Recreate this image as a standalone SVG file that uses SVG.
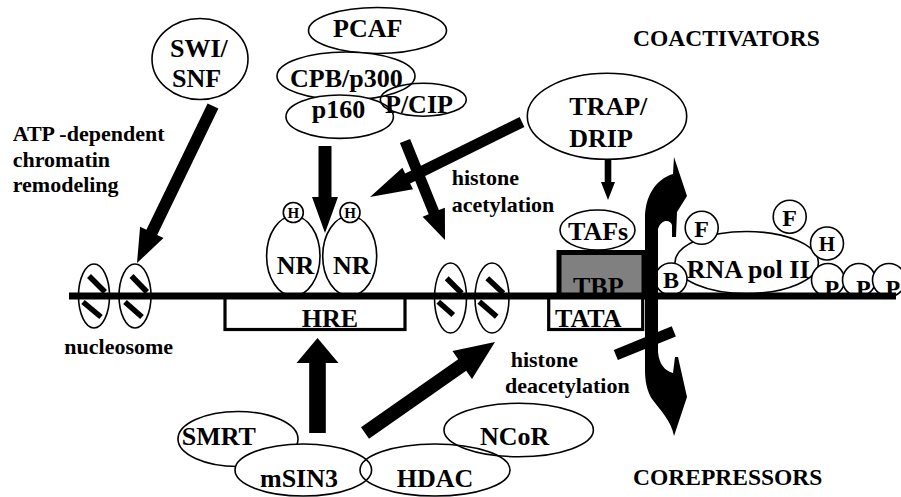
<svg xmlns="http://www.w3.org/2000/svg" width="901" height="497" viewBox="0 0 901 497">
<style>
.n{fill:#fff;stroke:#000;stroke-width:1.6}
.o{fill:none;stroke:#000;stroke-width:1.6}
.t{font-family:'Liberation Serif','DejaVu Serif','Noto Serif','Times New Roman',serif;font-weight:bold;font-size:26px;fill:#000}
.s{font-size:22px}
.k{font-size:23.5px}
.c{font-size:15px}
.m{text-anchor:middle}
.a{fill:#000;stroke:none}
.sl{stroke:#000;stroke-width:5.5}
.bx{fill:#fff;stroke:#000;stroke-width:3.2}
</style>
<rect width="901" height="497" fill="#fff"/>

<g id="swi-snf">
<ellipse class="n" cx="200" cy="59" rx="48" ry="40.5"/>
<text class="t" x="170" y="57">SWI/</text>
<text class="t" x="172" y="87">SNF</text>
</g>

<g id="pcaf">
<ellipse class="n" cx="377.5" cy="30.5" rx="69" ry="23"/>
<text class="t" x="333" y="37">PCAF</text>
</g>
<g id="cpb-p300">
<ellipse class="n" cx="346" cy="76" rx="69" ry="24"/>
<text class="t" x="290" y="87">CPB/p300</text>
</g>
<g id="p160">
<ellipse class="n" cx="339.7" cy="116.7" rx="53.7" ry="21.7"/>
<text class="t" x="311.7" y="118">p160</text>
</g>
<g id="p-cip">
<ellipse class="o" cx="423.3" cy="99.7" rx="43" ry="16.5"/>
<text class="t" x="385" y="112.5">P/CIP</text>
</g>

<g id="trap-drip">
<ellipse class="n" cx="607" cy="116.3" rx="79.7" ry="43"/>
<text class="t" x="569.3" y="115">TRAP/</text>
<text class="t" x="569.3" y="147">DRIP</text>
</g>

<g id="nr-left">
<ellipse class="n" cx="293.3" cy="256" rx="26.7" ry="40"/>
<circle class="n" cx="293.3" cy="212.5" r="10"/>
<text class="t c m" x="293.3" y="218">H</text>
<text class="t" x="276.7" y="274">NR</text>
</g>
<g id="nr-right">
<ellipse class="n" cx="349.7" cy="256" rx="27" ry="40"/>
<circle class="n" cx="350" cy="212.5" r="10"/>
<text class="t c m" x="350" y="218">H</text>
<text class="t" x="333" y="274">NR</text>
</g>

<g id="nucleosomes-left">
<ellipse class="o" cx="94" cy="296" rx="15.5" ry="32"/>
<ellipse class="o" cx="135" cy="296" rx="16" ry="32"/>
<line class="sl" x1="89" y1="276" x2="105" y2="292"/>
<line class="sl" x1="83" y1="302" x2="101" y2="317"/>
<line class="sl" x1="131.5" y1="276" x2="147" y2="292"/>
<line class="sl" x1="125" y1="302" x2="142" y2="317"/>
</g>
<g id="nucleosomes-right">
<ellipse class="o" cx="450.5" cy="298" rx="16" ry="35"/>
<ellipse class="o" cx="492" cy="298" rx="17" ry="35"/>
<line class="sl" x1="446.7" y1="278.3" x2="461.7" y2="293.3"/>
<line class="sl" x1="438.3" y1="301.7" x2="453.3" y2="315"/>
<line class="sl" x1="487.3" y1="278.3" x2="503.3" y2="293.3"/>
<line class="sl" x1="479.3" y1="301.7" x2="496.7" y2="316.7"/>
</g>

<g id="hre">
<rect class="bx" x="225" y="296" width="180" height="33.5"/>
<text class="t" x="301.7" y="327">HRE</text>
</g>
<g id="tata">
<rect class="bx" x="548.7" y="296" width="94" height="33.5"/>
<text class="t" x="555" y="327">TATA</text>
</g>
<g id="tafs">
<ellipse class="n" cx="597.5" cy="230" rx="37.5" ry="20"/>
<text class="t" x="568" y="240">TAFs</text>
</g>
<g id="tbp">
<rect x="559" y="252.5" width="85" height="43" fill="#808080" stroke="#000" stroke-width="5"/>
<text class="t" x="573" y="295">TBP</text>
</g>

<g id="rna-pol-ii">
<ellipse class="n" cx="746.7" cy="262.5" rx="71.7" ry="31"/>
<text class="t" x="686.7" y="278">RNA pol II</text>
<circle class="n" cx="671" cy="279" r="16"/>
<text class="t m" x="671" y="288" style="font-size:24px">B</text>
<circle class="n" cx="701.7" cy="227.8" r="16.5"/>
<text class="t m" x="701.7" y="236.5" style="font-size:24px">F</text>
<circle class="n" cx="789.7" cy="216.7" r="16.5"/>
<text class="t m" x="789.7" y="225.5" style="font-size:24px">F</text>
<circle class="n" cx="827" cy="243.5" r="16.5"/>
<text class="t m" x="827" y="251" style="font-size:21px">H</text>
<circle class="n" cx="828" cy="280" r="16.5"/>
<circle class="n" cx="859" cy="280" r="16.5"/>
<circle class="n" cx="889" cy="280" r="16.5"/>
<text class="t" x="824.5" y="296" style="font-size:24px">P</text>
<text class="t" x="856" y="296" style="font-size:24px">P</text>
<text class="t" x="885.5" y="296" style="font-size:24px">P</text>
</g>

<g id="dna">
<line x1="69" y1="296" x2="896" y2="296" stroke="#000" stroke-width="7"/>
</g>

<g id="connectors">
<path class="a" d="M645,218 C645,196 656,179 673,174 L674,157 L687,196 L677,212 L676,237 L672,237 L672,225 C670,219 661,219 658,229 L658,352 C659,364 665,371 673,373 L675,357 L678,357 L687,397 L674,436 C671,420 660,410 652,399 C647,391 645,381 645,370 Z"/>
<line x1="615.8" y1="355" x2="673.8" y2="331.3" stroke="#000" stroke-width="11"/>
<polygon class="a" points="207.6,103.4 146.4,229.8 140.1,226.7 137,263 163.5,238.1 157.2,235 218.4,108.6"/>
<polygon class="a" points="318.5,146 318.5,197 312,197 325,233 338,197 331.5,197 331.5,146"/>
<polygon class="a" points="519.6,117.1 405.2,173.5 402.4,167.7 370,197 413,189.2 410.1,183.4 524.4,126.9"/>
<polygon class="a" points="399.9,143.1 428.7,214.3 422.6,216.7 445,240 444.9,207.7 438.9,210.1 410.1,138.9"/>
<polygon class="a" points="604.7,159 604.7,182 601,182 608,200 615,182 611.3,182 611.3,159"/>
<polygon class="a" points="309.2,433 309.2,363 296.5,363 317.5,338 338.5,363 325.8,363 325.8,433"/>
<polygon class="a" points="369,438.7 466.2,370.7 472,378.9 495,342 452.5,351 458.2,359.2 361,427.3"/>
</g>

<g id="labels">
<text class="t k" x="633" y="46">COACTIVATORS</text>
<text class="t k" x="633" y="485">COREPRESSORS</text>
<text class="t s" x="12.7" y="141">ATP -dependent</text>
<text class="t s" x="12.7" y="167">chromatin</text>
<text class="t s" x="12.7" y="192">remodeling</text>
<text class="t s" x="451.7" y="185">histone</text>
<text class="t s" x="451.7" y="211.7">acetylation</text>
<text class="t s" x="510.7" y="367">histone</text>
<text class="t s" x="505" y="393">deacetylation</text>
<text class="t s" x="64.3" y="354">nucleosome</text>
</g>

<g id="smrt">
<ellipse class="n" cx="238" cy="439" rx="60" ry="27.5"/>
<text class="t" x="181.7" y="445">SMRT</text>
</g>
<g id="msin3">
<ellipse class="n" cx="303.3" cy="470" rx="68.3" ry="26"/>
<text class="t" x="260" y="486.7">mSIN3</text>
</g>
<g id="hdac">
<ellipse class="o" cx="435" cy="470" rx="75" ry="26"/>
<text class="t" x="396.7" y="486.7">HDAC</text>
</g>
<g id="ncor">
<ellipse class="o" cx="518.7" cy="430" rx="74.7" ry="26.7"/>
<text class="t" x="480" y="445">NCoR</text>
</g>
</svg>
